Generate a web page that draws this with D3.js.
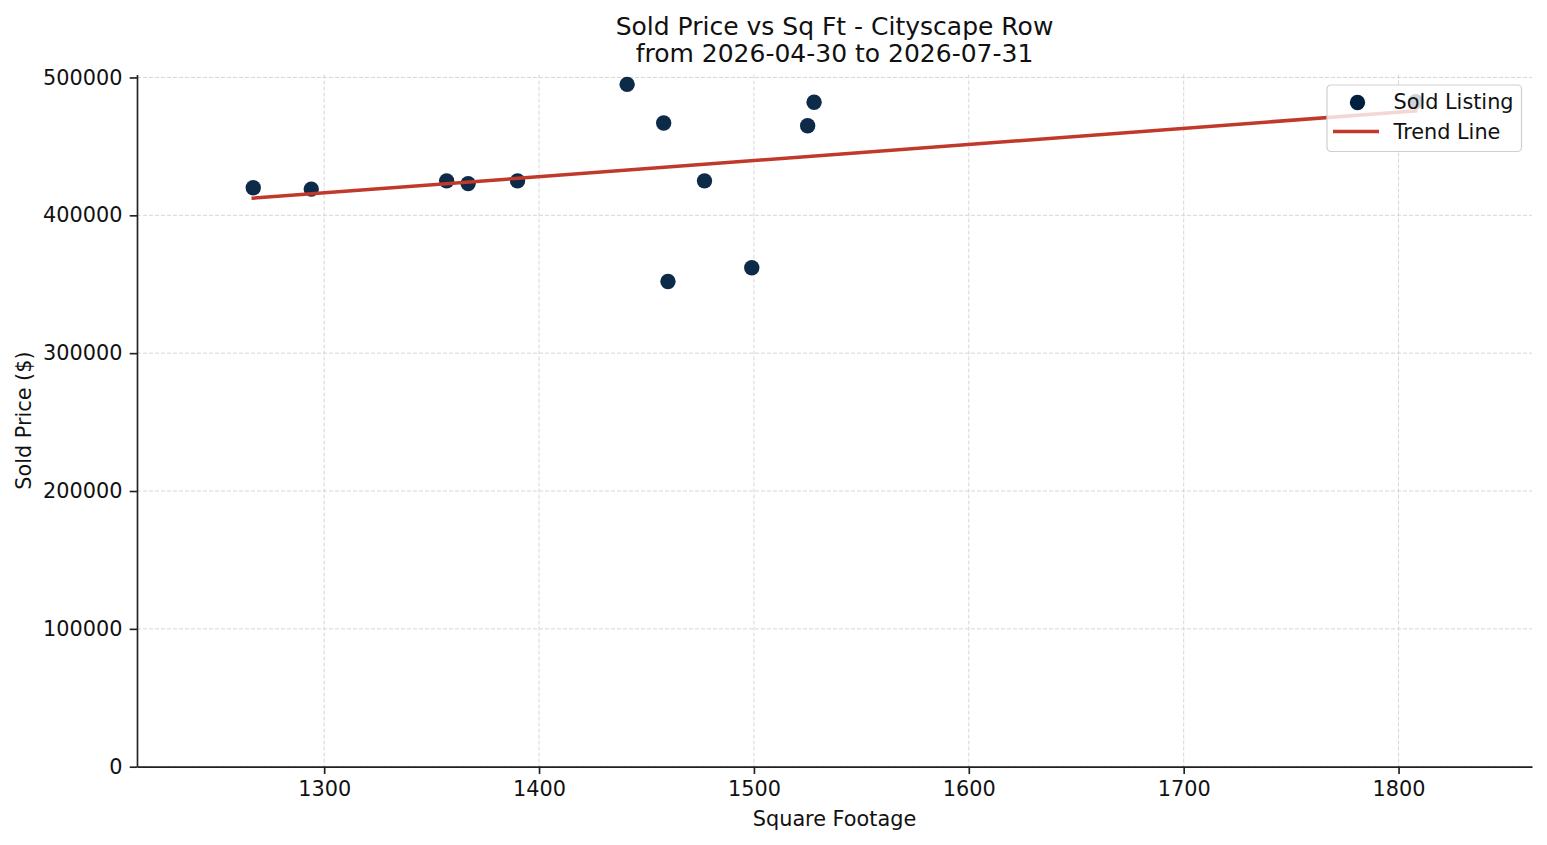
<!DOCTYPE html>
<html>
<head>
<meta charset="utf-8">
<title>Sold Price vs Sq Ft - Cityscape Row</title>
<script src="https://d3js.org/d3.v7.min.js"></script>
<style>
  body { margin: 0; background: #fff; }
  svg { display: block; font-family: "DejaVu Sans", sans-serif; }
  .axis path, .axis line { stroke: #222; stroke-width: 1.67; }
  .axis text { font-size: 20.8px; fill: #111; font-family: "DejaVu Sans", sans-serif; }
  .grid line { stroke: #d2d2d2; stroke-width: 0.9; stroke-dasharray: 4,2; }
</style>
</head>
<body>
<svg id="chart" width="1547" height="845"></svg>
<script>
// sold listings
var sqft  = [1267, 1294, 1357, 1367, 1390, 1441, 1458, 1460, 1477, 1499, 1525, 1528, 1808];
var price = [420000, 419000, 425000, 423000, 425000, 495000, 467000, 352000, 425000, 362000, 465000, 482000, 482500];
var xTicks = [1300, 1400, 1500, 1600, 1700, 1800];
var yTicks = [0, 100000, 200000, 300000, 400000, 500000];
var titleLines = ["Sold Price vs Sq Ft - Cityscape Row", "from 2026-04-30 to 2026-07-31"];

var W = 1547, H = 845;
var margin = {left: 137, right: 15, top: 74.5, bottom: 78.3};
var iw = W - margin.left - margin.right;
var ih = H - margin.top - margin.bottom;

var svg = d3.select("#chart");
var g = svg.append("g").attr("transform", "translate(" + margin.left + "," + margin.top + ")");

// matplotlib-ish autoscale: 10% pad on x, y from 0 to max + 5% of data span
var xmin = d3.min(sqft), xmax = d3.max(sqft);
var ymin = d3.min(price), ymax = d3.max(price);
var xs = d3.scaleLinear().domain([xmin - 0.1 * (xmax - xmin), xmax + 0.1 * (xmax - xmin)]).range([0, iw]);
var ys = d3.scaleLinear().domain([0, ymax + 0.05 * (ymax - ymin)]).range([ih, 0]);

// grid
g.append("g").attr("class", "grid")
  .selectAll("line.v").data(xTicks).enter().append("line")
  .attr("x1", d => xs(d)).attr("x2", d => xs(d)).attr("y1", 0).attr("y2", ih);
g.append("g").attr("class", "grid")
  .selectAll("line.h").data(yTicks).enter().append("line")
  .attr("x1", 0).attr("x2", iw).attr("y1", d => ys(d)).attr("y2", d => ys(d));

// points
var pts = sqft.map((s, i) => ({x: s, y: price[i]}));
g.append("g").selectAll("circle").data(pts).enter().append("circle")
  .attr("cx", d => xs(d.x)).attr("cy", d => ys(d.y)).attr("r", 7.7)
  .attr("fill", "#001f3f").attr("fill-opacity", 0.95);

// least squares trend line
var mx = d3.mean(sqft), my = d3.mean(price);
var sxy = d3.sum(pts, d => (d.x - mx) * (d.y - my));
var sxx = d3.sum(pts, d => (d.x - mx) * (d.x - mx));
var slope = sxy / sxx, icpt = my - slope * mx;
var trend = [xmin, xmax].map(x => ({x: x, y: icpt + slope * x}));
g.append("path").datum(trend)
  .attr("d", d3.line().x(d => xs(d.x)).y(d => ys(d.y)))
  .attr("fill", "none").attr("stroke", "#c0392b").attr("stroke-width", 3.5)
  .attr("stroke-linecap", "square");

// axes (no top/right spines)
g.append("g").attr("class", "axis").attr("transform", "translate(0," + ih + ")")
  .call(d3.axisBottom(xs).tickValues(xTicks).tickSize(7.3).tickPadding(7.3).tickSizeOuter(0).tickFormat(d3.format("d")));
g.append("g").attr("class", "axis")
  .call(d3.axisLeft(ys).tickValues(yTicks).tickSize(7.3).tickPadding(7.3).tickSizeOuter(0).tickFormat(d3.format("d")));

// labels
svg.append("text").attr("x", margin.left + iw / 2).attr("y", 826)
  .attr("text-anchor", "middle").attr("font-size", "20.8px").attr("fill", "#111")
  .text("Square Footage");
svg.append("text").attr("transform", "translate(31," + (margin.top + ih / 2) + ")rotate(-90)")
  .attr("text-anchor", "middle").attr("font-size", "20.8px").attr("fill", "#111")
  .text("Sold Price ($)");
svg.append("g").selectAll("text").data(titleLines).enter().append("text")
  .attr("x", margin.left + iw / 2).attr("y", (d, i) => 34.5 + i * 27.5)
  .attr("text-anchor", "middle").attr("font-size", "25px").attr("fill", "#111")
  .text(d => d);

// legend
var lg = svg.append("g").attr("transform", "translate(1327,85)");
lg.append("rect").attr("width", 194.5).attr("height", 66.5).attr("rx", 4)
  .attr("fill", "#fff").attr("fill-opacity", 0.8).attr("stroke", "#cfcfcf").attr("stroke-width", 1.2);
lg.append("circle").attr("cx", 30.5).attr("cy", 17.5).attr("r", 7.7).attr("fill", "#001f3f");
lg.append("line").attr("x1", 6).attr("x2", 52).attr("y1", 46.5).attr("y2", 46.5)
  .attr("stroke", "#c0392b").attr("stroke-width", 3.5);
lg.selectAll("text.lbl").data(["Sold Listing", "Trend Line"]).enter().append("text")
  .attr("x", 66.5).attr("y", (d, i) => 24 + i * 30)
  .attr("font-size", "20.8px").attr("fill", "#111").text(d => d);
</script>
</body>
</html>
